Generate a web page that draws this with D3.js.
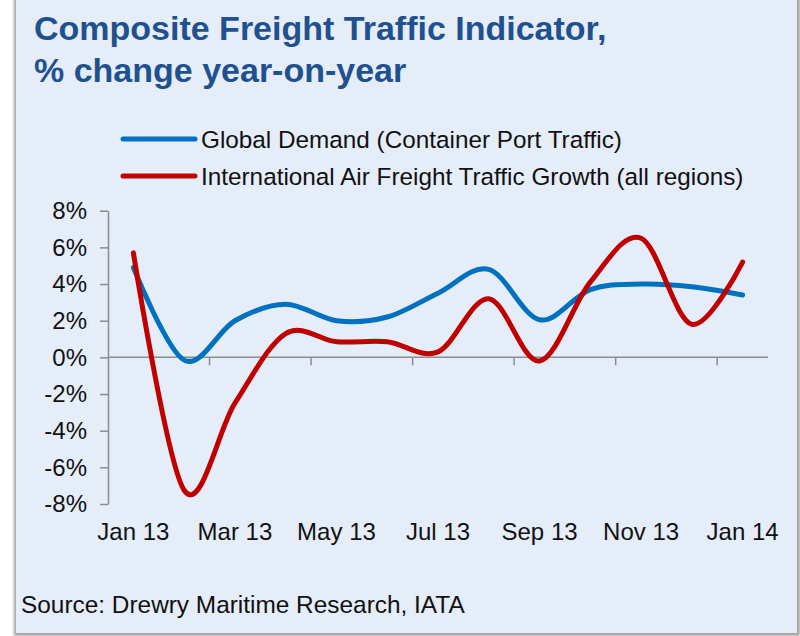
<!DOCTYPE html>
<html>
<head>
<meta charset="utf-8">
<script src="https://cdn.jsdelivr.net/npm/d3@7"></script>
<style>
  body { margin: 0; background: #ffffff; }
  text { font-family: Arial, "Liberation Sans", sans-serif; }
</style>
</head>
<body>
<div id="chart"></div>
<script>
// composite freight traffic indicator, % change yoy
var months = ["Jan 13", "Feb 13", "Mar 13", "Apr 13", "May 13", "Jun 13", "Jul 13",
              "Aug 13", "Sep 13", "Oct 13", "Nov 13", "Dec 13", "Jan 14"]
var portTraffic = [4.9, -0.15, 2.0, 2.9, 2.0, 2.2, 3.5, 4.8, 2.05, 3.7, 4.0, 3.85, 3.4]
var airFreight = [5.7, -7.25, -2.5, 1.3, 0.85, 0.85, 0.3, 3.2, -0.2, 4.1, 6.5, 1.8, 5.2]
var yTicks = [-8, -6, -4, -2, 0, 2, 4, 6, 8]
var xLabels = ["Jan 13", "Mar 13", "May 13", "Jul 13", "Sep 13", "Nov 13", "Jan 14"]

var seriesNames = ["Global Demand (Container Port Traffic)",
                   "International Air Freight Traffic Growth (all regions)"]
var colors = ["#0070c0", "#c00000"]

var width = 800
var height = 636
var margin = ({ top: 210.7, right: 32, bottom: 132, left: 108 })

var svg = d3.select("#chart")
    .append("svg")
    .attr("width", width)
    .attr("height", height)

// panel shadow + panel
var defs = svg.append("defs")
var f = defs.append("filter").attr("id", "shadow")
    .attr("x", "-5%").attr("y", "-5%").attr("width", "110%").attr("height", "110%")
f.append("feGaussianBlur").attr("stdDeviation", 1.5)

svg.append("rect")
    .attr("x", 14).attr("y", -6)
    .attr("width", 786).attr("height", 642)
    .attr("fill", "#a0a0a0")
    .attr("filter", "url(#shadow)")

svg.append("rect")
    .attr("x", 16).attr("y", -6)
    .attr("width", 781).attr("height", 639)
    .attr("fill", "#e5edf9")

// title
var title = svg.append("g")
    .attr("fill", "#1f5190")
    .attr("font-weight", "bold")
    .attr("font-size", 34)
title.append("text").attr("x", 34).attr("y", 40)
    .text("Composite Freight Traffic Indicator,")
title.append("text").attr("x", 34).attr("y", 82)
    .text("% change year-on-year")

// scales
var x = d3.scaleBand()
    .domain(months)
    .range([margin.left, width - margin.right])
    .paddingInner(0).paddingOuter(0)

var y = d3.scaleLinear()
    .domain([-8, 8])
    .range([504, margin.top])

var cx = d => x(d) + x.bandwidth() / 2

// y axis
svg.append("g")
    .attr("transform", `translate(${margin.left},0)`)
    .call(d3.axisLeft(y).tickValues(yTicks).tickFormat(d => d + "%").tickSize(8).tickPadding(13).tickSizeOuter(0))
    .call(g => g.selectAll("line, path").attr("stroke", "#8c8c8c").attr("stroke-width", 1.5))
    .call(g => g.selectAll("text").attr("font-size", 24).attr("fill", "#111").attr("font-family", null))

// x axis line at zero, with ticks every two categories
var xAxisG = svg.append("g")
xAxisG.append("line")
    .attr("x1", margin.left).attr("x2", width - margin.right)
    .attr("y1", y(0)).attr("y2", y(0))
    .attr("stroke", "#8c8c8c").attr("stroke-width", 1.5)
xAxisG.selectAll(".bt")
    .data(months.filter((d, i) => i > 0 && i % 2 === 0))
    .join("line")
    .attr("x1", d => x(d)).attr("x2", d => x(d))
    .attr("y1", y(0)).attr("y2", y(0) + 8)
    .attr("stroke", "#8c8c8c").attr("stroke-width", 1.5)

// x labels
svg.append("g")
    .attr("transform", "translate(0,523)")
    .call(d3.axisBottom(x).tickValues(xLabels).tickSize(0).tickPadding(0))
    .call(g => g.select(".domain").remove())
    .call(g => g.selectAll("text").attr("font-size", 24).attr("fill", "#111").attr("font-family", null))

// lines
var line = d3.line()
    .x((d, i) => cx(months[i]))
    .y(d => y(d))
    .curve(d3.curveCardinal.tension(0))

svg.append("g")
    .attr("fill", "none")
    .attr("stroke-width", 5)
    .attr("stroke-linejoin", "round")
    .attr("stroke-linecap", "round")
    .selectAll("path")
    .data([portTraffic, airFreight])
    .join("path")
    .attr("stroke", (d, i) => colors[i])
    .attr("d", d => line(d))

// legend
var legend = svg.append("g")
    .selectAll("g")
    .data(seriesNames)
    .join("g")
    .attr("transform", (d, i) => `translate(123,${i === 0 ? 139 : 176})`)
legend.append("line")
    .attr("x1", 0).attr("x2", 72)
    .attr("stroke", (d, i) => colors[i])
    .attr("stroke-width", 5)
    .attr("stroke-linecap", "round")
legend.append("text")
    .attr("x", 78)
    .attr("dy", "0.35em")
    .attr("font-size", 24.3)
    .attr("fill", "#111")
    .text(d => d)

// source
svg.append("text")
    .attr("x", 21).attr("y", 613)
    .attr("font-size", 24.4)
    .attr("fill", "#111")
    .text("Source: Drewry Maritime Research, IATA")
</script>
</body>
</html>
